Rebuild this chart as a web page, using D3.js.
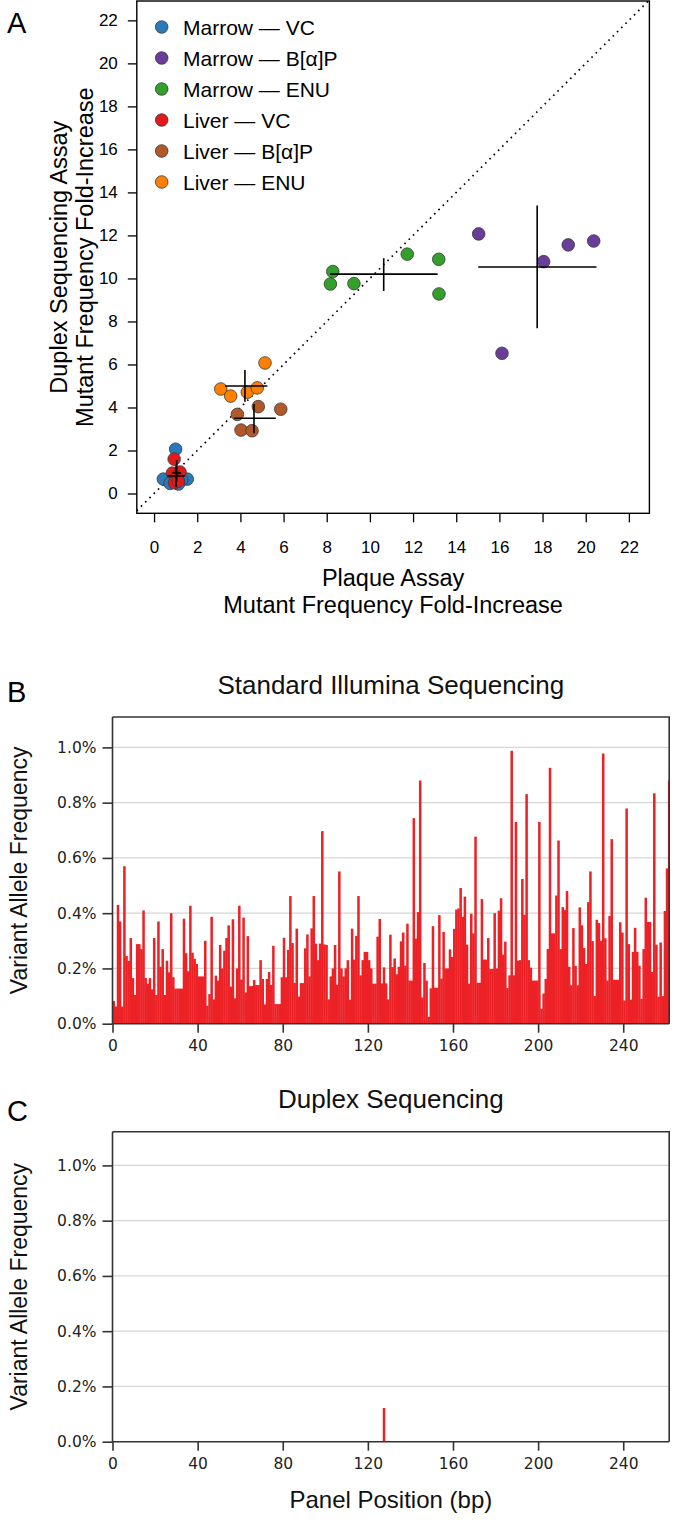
<!DOCTYPE html>
<html>
<head>
<meta charset="utf-8">
<script src="https://cdn.jsdelivr.net/npm/d3@7"></script>
<style>
  html, body { margin: 0; padding: 0; background: #fff; }
  svg { display: block; }
</style>
</head>
<body>
<script>
// ---------------- DATA ----------------
// Panel A groups
const groupNames = ["Marrow — VC", "Marrow — B[α]P", "Marrow — ENU", "Liver — VC", "Liver — B[α]P", "Liver — ENU"];
const groupColors = ["#2a7ab9", "#6a3d9a", "#33a02c", "#e31a1c", "#b15928", "#ff7f00"];

// Plaque assay fold-increase (x) and duplex fold-increase (y), per animal
const marrowVC_x  = [1.00, 0.43, 1.54, 0.74, 1.28, 1.13];
const marrowVC_y  = [2.06, 0.67, 0.67, 0.47, 0.63, 0.44];
const marrowBaP_x = [15.04, 16.12, 18.05, 19.19, 20.37];
const marrowBaP_y = [12.07, 6.52, 10.78, 11.56, 11.74];
const marrowENU_x = [8.28, 8.17, 9.26, 11.73, 13.19, 13.20];
const marrowENU_y = [10.32, 9.74, 9.76, 11.13, 10.89, 9.28];
const liverVC_x   = [0.93, 0.85, 1.20, 1.05, 0.95, 1.12];
const liverVC_y   = [1.60, 0.95, 1.00, 0.75, 0.50, 0.58];
const liverBaP_x  = [3.86, 4.83, 5.87, 4.03, 4.54];
const liverBaP_y  = [3.68, 4.04, 3.92, 2.95, 2.92];
const liverENU_x  = [3.09, 3.55, 4.32, 4.78, 5.14];
const liverENU_y  = [4.86, 4.53, 4.71, 4.91, 6.07];

// Group mean crosses (center, x-extent, y-extent), in group order
const crossCX  = [1.02, 17.75, 10.64, 1.05, 4.63, 4.21];
const crossCY  = [0.82, 10.53, 10.20, 0.95, 3.50, 5.00];
const crossXlo = [0.62, 15.02, 8.15, 0.85, 3.71, 3.29];
const crossXhi = [1.42, 20.50, 13.14, 1.25, 5.64, 5.25];
const crossYlo = [0.32, 7.68, 9.42, 0.55, 2.80, 4.27];
const crossYhi = [1.32, 13.39, 10.94, 1.56, 4.16, 5.74];

const axisTicksA = [0, 2, 4, 6, 8, 10, 12, 14, 16, 18, 20, 22];

// Panel B: standard Illumina VAF (%) per panel position (0..261)
const illuminaVAF = [
  0.082, 0.062, 0.43, 0.37, 0.062, 0.57, 0.245, 0.227,
  0.31, 0.165, 0.104, 0.288, 0.288, 0.27, 0.41, 0.165, 0.145, 0.165, 0.124, 0.31, 0.104, 0.37, 0.206, 0.27,
  0.104, 0.228, 0.186, 0.40, 0.168, 0.127, 0.127, 0.127, 0.127, 0.38, 0.255, 0.19, 0.427, 0.257, 0.235,
  0.216, 0.171, 0.171, 0.171, 0.30, 0.065, 0.107, 0.387, 0.088, 0.174, 0.156, 0.285, 0.2, 0.264, 0.31,
  0.356, 0.134, 0.378, 0.092, 0.2, 0.427, 0.16, 0.384, 0.113, 0.317, 0.136, 0.136, 0.158, 0.14, 0.14, 0.23,
  0.162, 0.07, 0.162, 0.187, 0.14, 0.282, 0.071, 0.071, 0.071, 0.168, 0.311, 0.168, 0.267, 0.462, 0.292,
  0.148, 0.344, 0.098, 0.147, 0.147, 0.273, 0.323, 0.171, 0.345, 0.462, 0.29, 0.23, 0.29, 0.697, 0.287, 0.285,
  0.088, 0.171, 0.2, 0.285, 0.141, 0.551, 0.2, 0.171, 0.2, 0.23, 0.087, 0.344, 0.232, 0.318, 0.462,
  0.175, 0.23, 0.26, 0.26, 0.23, 0.2, 0.145, 0.145, 0.315,
  0.379, 0.146, 0.204, 0.146, 0.088, 0.322, 0.205, 0.236, 0.179, 0.206, 0.298, 0.33, 0.21, 0.362, 0.156, 0.156,
  0.744, 0.308, 0.404, 0.88, 0.095, 0.22, 0.156, 0.025, 0.128, 0.353, 0.13, 0.13, 0.393, 0.163, 0.332, 0.2, 0.2,
  0.269, 0.241, 0.343, 0.413, 0.417, 0.491, 0.387, 0.46, 0.286, 0.145, 0.398, 0.327, 0.677, 0.148, 0.148, 0.451,
  0.232, 0.232, 0.31, 0.198, 0.198, 0.40, 0.2, 0.409, 0.454, 0.25, 0.297, 0.129, 0.175, 0.988, 0.175, 0.73,
  0.228, 0.23, 0.524, 0.394, 0.831, 0.23, 0.203, 0.156, 0.156, 0.156, 0.73, 0.054, 0.109, 0.162, 0.27, 0.926,
  0.327, 0.327, 0.464, 0.663, 0.27, 0.422, 0.411, 0.48, 0.206, 0.139, 0.346, 0.209, 0.139, 0.421, 0.356, 0.274,
  0.216, 0.44, 0.551, 0.299, 0.1, 0.376, 0.364, 0.30, 0.978, 0.309, 0.156, 0.39, 0.668, 0.159, 0.159, 0.159,
  0.367, 0.33, 0.084, 0.779, 0.288, 0.087, 0.26, 0.347, 0.26, 0.21, 0.09, 0.27, 0.456, 0.368, 0.368, 0.187,
  0.834, 0.286, 0.098, 0.294, 0.1, 0.408, 0.562, 0.88
];

// Panel C: duplex sequencing VAF (%)
const duplexPos = [127];
const duplexVAF = [0.122];

const vafTicks = [0, 0.2, 0.4, 0.6, 0.8, 1.0];
const posTicks = [0, 40, 80, 120, 160, 200, 240];

// ---------------- DRAW ----------------
const W = 677, H = 1524;
const svg = d3.select("body").append("svg").attr("width", W).attr("height", H);
const HELV = "'Liberation Sans', Arial, Helvetica, sans-serif";
const DJV = "'DejaVu Sans', sans-serif";

// ===== Panel A =====
const A = { left: 136.8, right: 649.4, top: 1, bottom: 513.3 };
const xA = d3.scaleLinear().domain([-0.8, 22.95]).range([A.left, A.right]);
const yA = d3.scaleLinear().domain([-0.92, 22.9]).range([A.bottom, A.top]);

svg.append("clipPath").attr("id", "clipA").append("rect")
  .attr("x", A.left).attr("y", A.top).attr("width", A.right - A.left).attr("height", A.bottom - A.top);

const gA = svg.append("g");
// identity line
gA.append("line").attr("clip-path", "url(#clipA)")
  .attr("x1", xA(-1)).attr("y1", yA(-1)).attr("x2", xA(23.5)).attr("y2", yA(23.5))
  .attr("stroke", "#000").attr("stroke-width", 1.7).attr("stroke-dasharray", "1.6,4.4");

// points
const groupsX = [marrowVC_x, marrowBaP_x, marrowENU_x, liverVC_x, liverBaP_x, liverENU_x];
const groupsY = [marrowVC_y, marrowBaP_y, marrowENU_y, liverVC_y, liverBaP_y, liverENU_y];
groupsX.forEach((xs, gi) => {
  gA.append("g").selectAll("circle").data(xs.map((x, i) => [x, groupsY[gi][i]])).join("circle")
    .attr("cx", d => xA(d[0])).attr("cy", d => yA(d[1])).attr("r", 6.3)
    .attr("fill", groupColors[gi]).attr("stroke", "#3a3a3a").attr("stroke-width", 0.8);
});

// crosses
const crossG = gA.append("g").attr("stroke", "#000").attr("stroke-width", 1.6);
crossCX.forEach((cx, i) => {
  crossG.append("line").attr("x1", xA(crossXlo[i])).attr("x2", xA(crossXhi[i]))
    .attr("y1", yA(crossCY[i])).attr("y2", yA(crossCY[i]));
  crossG.append("line").attr("x1", xA(cx)).attr("x2", xA(cx))
    .attr("y1", yA(crossYlo[i])).attr("y2", yA(crossYhi[i]));
});

// box
gA.append("rect").attr("x", A.left).attr("y", A.top).attr("width", A.right - A.left).attr("height", A.bottom - A.top)
  .attr("fill", "none").attr("stroke", "#000").attr("stroke-width", 1.4);

// axes
const yAxA = gA.append("g").attr("transform", `translate(${A.left},0)`)
  .call(d3.axisLeft(yA).tickValues(axisTicksA).tickSize(9).tickPadding(10));
const xAxA = gA.append("g").attr("transform", `translate(0,${A.bottom})`)
  .call(d3.axisBottom(xA).tickValues(axisTicksA).tickSize(9).tickPadding(19));
[yAxA, xAxA].forEach(ax => {
  ax.select(".domain").remove();
  ax.selectAll("line").attr("stroke", "#000").attr("stroke-width", 1.3);
  ax.selectAll("text").attr("font-family", HELV).attr("font-size", 17).attr("fill", "#000");
});

// legend
const legY0 = 27, legDY = 31;
groupNames.forEach((name, i) => {
  const y = legY0 + i * legDY;
  gA.append("circle").attr("cx", 161.7).attr("cy", y).attr("r", 6.3)
    .attr("fill", groupColors[i]).attr("stroke", "#3a3a3a").attr("stroke-width", 0.8);
  gA.append("text").attr("x", 183).attr("y", y).attr("dy", "0.36em")
    .attr("font-family", HELV).attr("font-size", 21).attr("fill", "#000").text(name);
});

// axis titles A
const cxA = (A.left + A.right) / 2;
gA.append("text").attr("x", cxA).attr("y", 586).attr("text-anchor", "middle")
  .attr("font-family", HELV).attr("font-size", 23.5).text("Plaque Assay");
gA.append("text").attr("x", cxA).attr("y", 613).attr("text-anchor", "middle")
  .attr("font-family", HELV).attr("font-size", 23.5).text("Mutant Frequency Fold-Increase");
const cyA = (A.top + A.bottom) / 2;
gA.append("text").attr("transform", `translate(67,${cyA}) rotate(-90)`).attr("text-anchor", "middle")
  .attr("font-family", HELV).attr("font-size", 23.5).text("Duplex Sequencing Assay");
gA.append("text").attr("transform", `translate(93,${cyA}) rotate(-90)`).attr("text-anchor", "middle")
  .attr("font-family", HELV).attr("font-size", 23.5).text("Mutant Frequency Fold-Increase");

svg.append("text").attr("x", 7).attr("y", 33).attr("font-family", HELV).attr("font-size", 29).text("A");

// ===== Panels B & C =====
function barPanel(opts) {
  const { top, bottom, ymax, positions, values, title, titleY, letter, letterY, id, xTitle } = opts;
  const left = 112.5, right = 669.2;
  const x = d3.scaleLinear().domain([0, 261.6]).range([left, right]);
  const y = d3.scaleLinear().domain([0, ymax]).range([bottom, top]);
  const g = svg.append("g");

  g.append("clipPath").attr("id", id).append("rect")
    .attr("x", left).attr("y", top).attr("width", right - left).attr("height", bottom - top);

  // grid
  g.append("g").selectAll("line").data(vafTicks.filter(v => v > 0)).join("line")
    .attr("x1", left).attr("x2", right).attr("y1", d => y(d)).attr("y2", d => y(d))
    .attr("stroke", "#d6d6d6").attr("stroke-width", 1.2);

  // bars
  g.append("g").attr("clip-path", `url(#${id})`).selectAll("rect").data(positions.map((p, i) => [p, values[i]])).join("rect")
    .attr("x", d => x(d[0])).attr("width", d => x(d[0] + 1) - x(d[0]) + 0.4)
    .attr("y", d => y(d[1])).attr("height", d => y(0) - y(d[1]))
    .attr("fill", "#ec2227");

  // frame (top + right)
  g.append("path").attr("d", `M${left},${top}H${right}V${bottom}`)
    .attr("fill", "none").attr("stroke", "#333").attr("stroke-width", 1.6);

  const yAx = g.append("g").attr("transform", `translate(${left},0)`)
    .call(d3.axisLeft(y).tickValues(vafTicks).tickSize(10).tickPadding(6)
      .tickFormat(d => d3.format(".1f")(d) + "%"));
  yAx.select(".domain").attr("d", `M0,${top}V${bottom}`);
  const xAx = g.append("g").attr("transform", `translate(0,${bottom})`)
    .call(d3.axisBottom(x).tickValues(posTicks).tickSize(9).tickPadding(7));
  xAx.select(".domain").attr("d", `M${left},0H${right}`);
  [yAx, xAx].forEach(ax => {
    ax.selectAll(".domain, line").attr("stroke", "#333").attr("stroke-width", 1.6);
    ax.selectAll("text").attr("font-family", DJV).attr("font-size", 15.5).attr("fill", "#222");
  });

  g.append("text").attr("x", (left + right) / 2).attr("y", titleY).attr("text-anchor", "middle")
    .attr("font-family", HELV).attr("font-size", 26).attr("fill", "#111").text(title);
  g.append("text").attr("transform", `translate(27,${(top + bottom) / 2}) rotate(-90)`).attr("text-anchor", "middle")
    .attr("font-family", HELV).attr("font-size", 23).attr("fill", "#111").text("Variant Allele Frequency");
  if (xTitle) {
    g.append("text").attr("x", (left + right) / 2).attr("y", xTitle.y).attr("text-anchor", "middle")
      .attr("font-family", HELV).attr("font-size", 24).attr("fill", "#111").text(xTitle.text);
  }
  svg.append("text").attr("x", 7).attr("y", letterY).attr("font-family", HELV).attr("font-size", 29).text(letter);
}

barPanel({
  id: "clipB", top: 717, bottom: 1023.7, ymax: 1.11,
  positions: illuminaVAF.map((v, i) => i), values: illuminaVAF,
  title: "Standard Illumina Sequencing", titleY: 694, letter: "B", letterY: 702
});
barPanel({
  id: "clipC", top: 1131.7, bottom: 1441.7, ymax: 1.122,
  positions: duplexPos, values: duplexVAF,
  title: "Duplex Sequencing", titleY: 1108, letter: "C", letterY: 1121,
  xTitle: { text: "Panel Position (bp)", y: 1508 }
});
</script>
</body>
</html>
